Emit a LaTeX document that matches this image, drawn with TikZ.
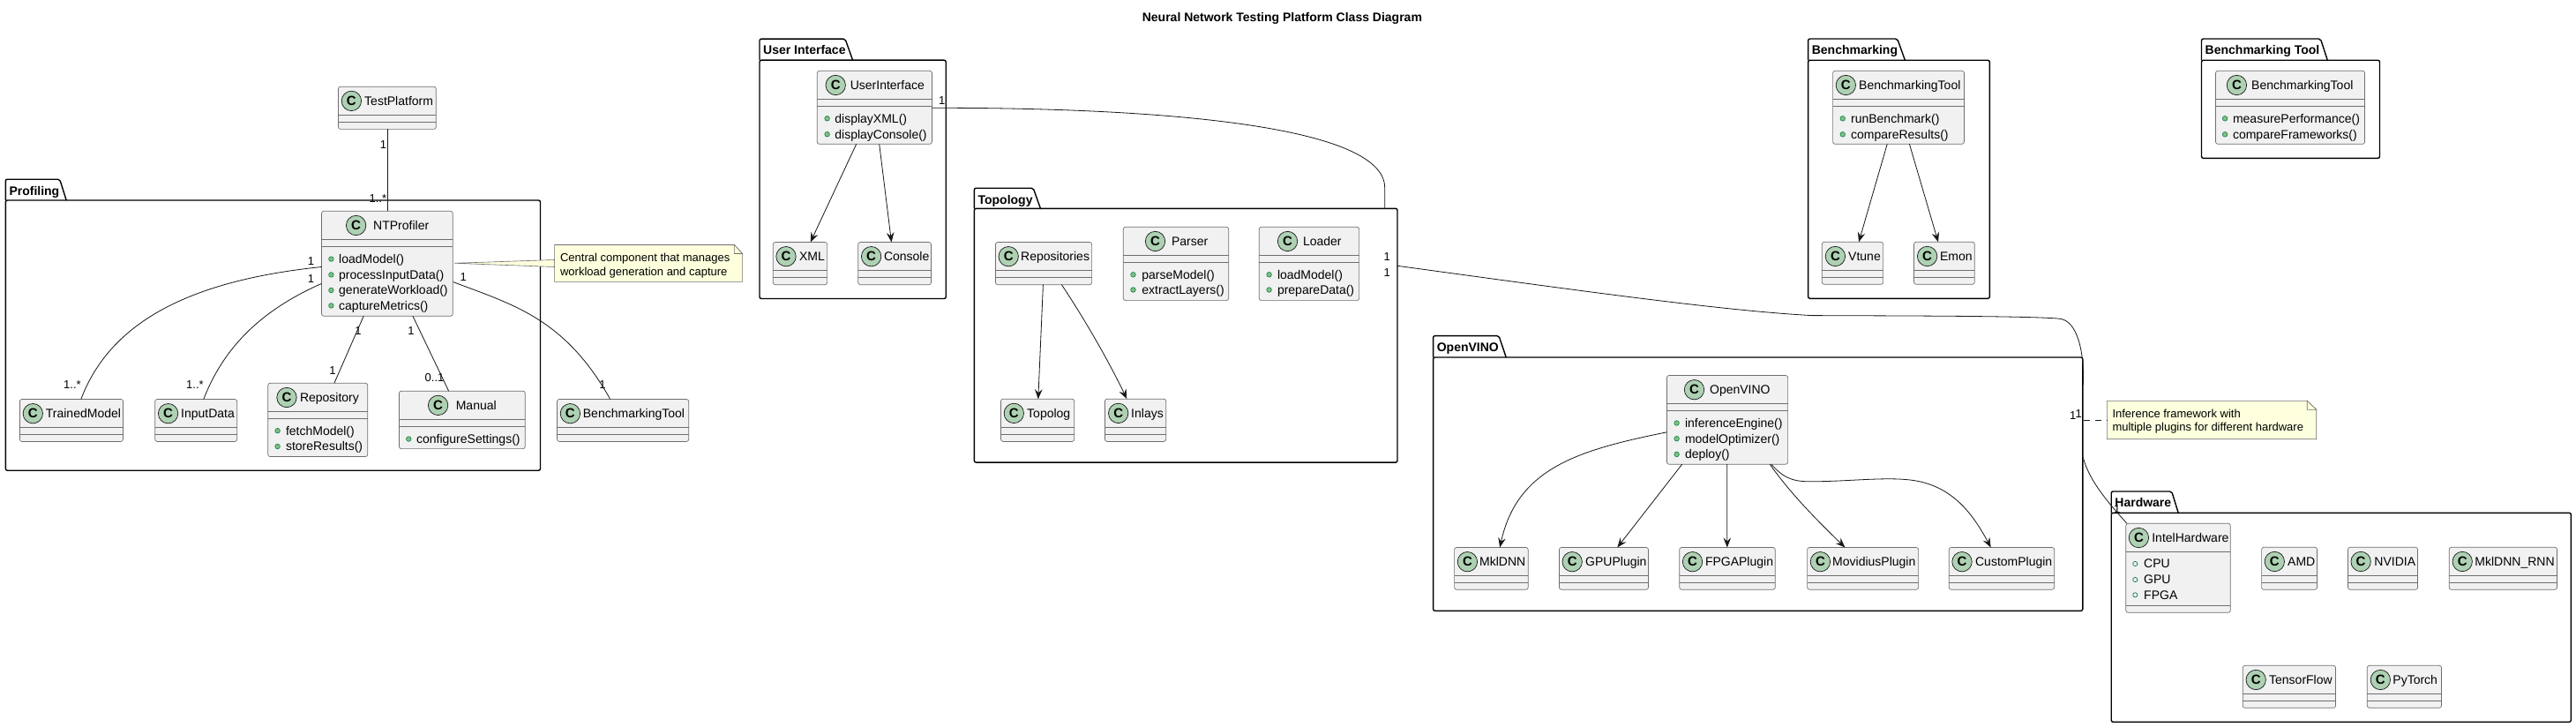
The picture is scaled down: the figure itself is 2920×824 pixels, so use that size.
\documentclass[tikz,border=0pt]{standalone}
\usepackage{fontspec}
\setmainfont{Liberation Sans}
\usetikzlibrary{calc,arrows.meta}
\definecolor{clsfill}{HTML}{F1F1F1}
\definecolor{clsline}{HTML}{6E6E6E}
\definecolor{iconfill}{HTML}{ADD1B2}
\definecolor{notefill}{HTML}{FEFFDD}
\definecolor{dotfill}{HTML}{84BE84}
\definecolor{dotline}{HTML}{038048}
\definecolor{ink}{HTML}{181818}
\tikzset{
  clsbox/.style={draw=clsline,fill=clsfill,line width=0.7pt,rounded corners=2.5pt,inner sep=0pt,outer sep=0pt,anchor=north west},
  pkgbox/.style={draw=black,line width=1.4pt,rounded corners=2pt,inner sep=0pt,outer sep=0pt,anchor=north west},
  pkgtab/.style={draw=black,line width=1.4pt,rounded corners=2pt},
  pkglabel/.style={font=\fontsize{14}{16}\selectfont\bfseries,inner sep=0pt,anchor=base west},
  sepline/.style={draw=clsline,line width=0.7pt},
  iconc/.style={circle,draw=ink,fill=iconfill,line width=0.7pt,minimum size=22.4pt,inner sep=0pt,font=\fontsize{15}{15}\selectfont\bfseries},
  clsname/.style={font=\fontsize{14}{16}\selectfont,inner sep=0pt,anchor=base west},
  mtext/.style={font=\fontsize{14}{16}\selectfont,inner sep=0pt,anchor=base west},
  mdot/.style={draw=dotline,fill=dotfill,line width=0.6pt},
  fdot/.style={draw=dotline,fill=none,line width=0.7pt},
  conn/.style={draw=ink,line width=0.8pt},
  arr/.style={conn,-{Stealth[length=11pt,width=8.5pt,inset=4pt,fill=ink]}},
  lbl/.style={font=\fontsize{13}{15}\selectfont,inner sep=0pt,anchor=base},
  notebody/.style={inner sep=0pt,outer sep=0pt,anchor=north west},
  noteline/.style={draw=clsline,fill=notefill,line width=0.6pt},
  ntext/.style={font=\fontsize{13}{15}\selectfont,inner sep=0pt,anchor=base west},
}
% id, xl, yt, xr, yb, separators, icon x, text x, name
\newcommand{\cls}[9]{%
  \node[clsbox,minimum width={(#4-#2)*1pt},minimum height={(#5-#3)*1pt}] (#1) at (#2,#3) {};
  \foreach \s in {#6}{\draw[sepline] (#1.north west |- 0,\s) -- (#1.north east |- 0,\s);}
  \node[iconc] (#1-i) at (#7,#3+16.2) {C};
  \node[clsname] (#1-t) at (#8,#3+21.2) {#9};
}
% id, n, dot x, text x, y, label
\newcommand{\mem}[6]{%
  \draw[mdot] (#3,#5) circle[radius=2.8pt];
  \node[mtext] (#1-m#2) at (#4,#5+4.9) {#6};
}
\newcommand{\fld}[6]{%
  \draw[fdot] (#3,#5) circle[radius=2.6pt];
  \node[mtext] (#1-m#2) at (#4,#5+4.9) {#6};
}
% id, xl, ytop, tab right top, tab right bottom, ybody, xr, yb, label
\newcommand{\pkg}[9]{%
  \draw[pkgtab] (#2,#6) -- (#2,#3) -- (#4,#3) -- (#5,#6);
  \node[pkgbox,minimum width={(#7-#2)*1pt},minimum height={(#8-#6)*1pt}] (#1) at (#2,#6) {};
  \node[pkglabel] (#1-l) at (#2+4,#3+17.8) {#9};
}
% id, xl, yt, xr, yb, fold x, fold y
\newcommand{\notebox}[7]{%
  \node[notebody,minimum width={(#4-#2)*1pt},minimum height={(#5-#3)*1pt}] (#1) at (#2,#3) {};
  \draw[noteline] (#2,#3) -- (#6,#3) -- (#4,#7) -- (#4,#5) -- (#2,#5) -- cycle;
  \draw[noteline] (#6,#3) -- (#6,#7) -- (#4,#7) -- cycle;
}
\begin{document}
\begin{tikzpicture}[x=1pt,y=-1pt]
\path[use as bounding box,fill=white] (0,0) rectangle (2920,824);

\node[font=\fontsize{14}{16}\selectfont\bfseries,inner sep=0pt,anchor=base] (title) at (1453.4,25) {Neural Network Testing Platform Class Diagram};

% packages
\pkg{pprof}{6.3}{203.2}{67.7}{75.2}{227}{612.5}{533.2}{Profiling}
\pkg{pui}{861}{44.1}{958}{966.6}{68.2}{1072.2}{338.5}{User Interface}
\pkg{ptop}{1104.4}{213.2}{1171.2}{1179.4}{236.3}{1584}{524.1}{Topology}
\pkg{pbm}{2049.6}{44}{2150.7}{2159.4}{68.3}{2255.3}{338.3}{Benchmarking}
\pkg{pbt}{2495.5}{44}{2630.4}{2638.3}{68.3}{2697.5}{179.3}{Benchmarking Tool}
\pkg{pov}{1624.6}{380.6}{1699}{1707.2}{405}{2360.8}{692.3}{OpenVINO}
\pkg{phw}{2393.2}{557}{2461.7}{2469.2}{581.3}{2914.3}{818.3}{Hardware}

% Profiling classes
\cls{tp}{383.5}{98.2}{494.3}{146.4}{130.4,138.2}{398.4}{413}{TestPlatform}
\cls{ntp}{364.5}{239.3}{513.2}{358.2}{271.4,279.6}{403.6}{423}{NTProfiler}
\mem{ntp}{1}{375.4}{384}{293.6}{loadModel()}
\mem{ntp}{2}{375.4}{384}{311.4}{processInputData()}
\mem{ntp}{3}{375.4}{384}{329}{generateWorkload()}
\mem{ntp}{4}{375.4}{384}{346.4}{captureMetrics()}
\cls{trained}{22.4}{452.5}{139.5}{500.4}{484.3,492.5}{37.3}{51.7}{TrainedModel}
\cls{input}{175.7}{452.5}{268.7}{500.4}{484.3,492.5}{190.6}{205}{InputData}
\cls{repo}{303.7}{434.3}{416.8}{517.5}{466.4,474.3}{325}{339.8}{Repository}
\mem{repo}{1}{314.6}{323.8}{488.2}{fetchModel()}
\mem{repo}{2}{314.6}{323.8}{506}{storeResults()}
\cls{manual}{452.4}{443.2}{595.3}{508.6}{475.4,483.6}{496.6}{516.6}{Manual}
\mem{manual}{1}{463.3}{471.9}{497.5}{configureSettings()}
\cls{bto}{631.5}{452.5}{780.7}{500.4}{484.3,492.5}{646.4}{660.7}{BenchmarkingTool}

% User Interface classes
\cls{ui}{926.3}{80.3}{1056.4}{163.3}{112.3,120.2}{947.2}{963.6}{UserInterface}
\mem{ui}{1}{937.6}{946.2}{134.3}{displayXML()}
\mem{ui}{2}{937.6}{946.2}{152.2}{displayConsole()}
\cls{xml}{876.3}{274.5}{937.6}{322.7}{306.2,314.4}{891}{905.9}{XML}
\cls{console}{972.8}{274.5}{1055.4}{322.7}{306.2,314.4}{987.6}{1001.8}{Console}

% Topology classes
\cls{repos}{1128.4}{274.5}{1237.6}{322.7}{306.2,314.4}{1143.2}{1157}{Repositories}
\cls{parser}{1273.3}{257.3}{1392.7}{340.6}{289.3,297.2}{1309.5}{1327.9}{Parser}
\mem{parser}{1}{1284.5}{1294.2}{311.3}{parseModel()}
\mem{parser}{2}{1284.5}{1294.2}{328.5}{extractLayers()}
\cls{loader}{1427.3}{257.3}{1540.6}{340.6}{289.3,297.2}{1459.5}{1476.8}{Loader}
\mem{loader}{1}{1438.6}{1447.8}{311.3}{loadModel()}
\mem{loader}{2}{1438.6}{1447.8}{328.5}{prepareData()}
\cls{topolog}{1134.5}{452.2}{1217.7}{500.4}{484.2,492.4}{1149.3}{1164}{Topolog}
\cls{inlays}{1252.4}{452.2}{1321.7}{500.4}{484.2,492.4}{1267.7}{1282}{Inlays}

% Benchmarking classes
\cls{bmk}{2077.6}{80.3}{2226.4}{163.3}{112.3,120.3}{2092.3}{2107}{BenchmarkingTool}
\mem{bmk}{1}{2088.7}{2097.9}{134.3}{runBenchmark()}
\mem{bmk}{2}{2088.7}{2097.9}{152.3}{compareResults()}
\cls{vtune}{2065.3}{274.3}{2134.6}{322.3}{306.3,314.3}{2080.4}{2095}{Vtune}
\cls{emon}{2169.5}{274.3}{2238.3}{322.3}{306.3,314.3}{2184.6}{2198.9}{Emon}

% Benchmarking Tool class
\cls{bmt}{2511.5}{80.3}{2680.5}{163.3}{112.3,120.3}{2535.4}{2552}{BenchmarkingTool}
\mem{bmt}{1}{2522.1}{2530.8}{134.3}{measurePerformance()}
\mem{bmt}{2}{2522.1}{2530.8}{152.3}{compareFrameworks()}

% OpenVINO classes
\cls{ov}{1889.4}{425.5}{2026.6}{526.2}{457.3,465.4}{1920.5}{1937.9}{OpenVINO}
\mem{ov}{1}{1900.6}{1909.8}{479.5}{inferenceEngine()}
\mem{ov}{2}{1900.6}{1909.8}{497.2}{modelOptimizer()}
\mem{ov}{3}{1900.6}{1909.8}{514.9}{deploy()}
\cls{mkl}{1648.6}{620.5}{1732.2}{668.2}{652.3,660.5}{1663.4}{1677}{MklDNN}
\cls{gpu}{1767.4}{620.5}{1868.5}{668.2}{652.3,660.5}{1782.2}{1797}{GPUPlugin}
\cls{fpga}{1903.7}{620.5}{2012.3}{668.2}{652.3,660.5}{1918.5}{1932.8}{FPGAPlugin}
\cls{mov}{2048.6}{620.5}{2174.6}{668.2}{652.3,660.5}{2063.4}{2077}{MovidiusPlugin}
\cls{custom}{2209.3}{620.5}{2328.7}{668.2}{652.3,660.5}{2224}{2238.9}{CustomPlugin}

% Hardware classes
\cls{intel}{2409.8}{593.3}{2528.3}{694.3}{625.3,686.3}{2424.4}{2439.1}{IntelHardware}
\fld{intel}{1}{2420.3}{2430}{639}{CPU}
\fld{intel}{2}{2420.3}{2430}{657}{GPU}
\fld{intel}{3}{2420.3}{2430}{674.3}{FPGA}
\cls{amd}{2563.6}{620.3}{2626.5}{668.3}{652.3,660.3}{2578.3}{2593}{AMD}
\cls{nvidia}{2661.5}{620.3}{2740.5}{668.3}{652.3,660.3}{2676.1}{2691.2}{NVIDIA}
\cls{rnn}{2776.2}{620.3}{2898.5}{668.3}{652.3,660.3}{2791.2}{2805.2}{MklDNN\_RNN}
\cls{tf}{2542.2}{754.3}{2647.5}{802.3}{786.3,794.3}{2557.2}{2571.9}{TensorFlow}
\cls{pt}{2683.3}{754.3}{2767.5}{802.3}{786.3,794.3}{2698.3}{2712.2}{PyTorch}

% notes
\notebox{n1}{628.6}{277.5}{841.6}{319.3}{832.4}{287.5}
\draw[noteline] ($(ntp.north east)+(2,59)$) -- ($(n1.north west)+(0,17)$) -- ($(n1.north west)+(0,25)$) -- cycle;
\node[ntext] (n1-a) at (634.9,296.3) {Central component that manages};
\node[ntext] (n1-b) at (634.9,312.4) {workload generation and capture};
\notebox{n2}{2388.3}{454.3}{2625.7}{497.7}{2615.2}{464.3}
\node[ntext] (n2-a) at (2394.3,473.2) {Inference framework with};
\node[ntext] (n2-b) at (2394.3,488.8) {multiple plugins for different hardware};
\draw[conn,dash pattern=on 7.5pt off 5.6pt] ($(pov.north east)+(1,71)$) -- (n2.west);

% connectors: Profiling
\draw[conn] ($(tp.south west)+(56.2,0)$) -- ($(ntp.north west)+(75.2,0)$);
\draw[conn] ($(ntp.north west)+(0,63.2)$) .. controls (215,318) and (125,365) .. ($(trained.north west)+(69.4,0)$);
\draw[conn] ($(ntp.north west)+(0,82.1)$) .. controls (300,350) and (255,390) .. ($(input.north west)+(55.1,0)$);
\draw[conn] ($(ntp.south west)+(47.7,0)$) -- ($(repo.north west)+(75.2,0)$);
\draw[conn] ($(ntp.south west)+(103.4,0)$) -- ($(manual.north west)+(56.2,0)$);
\draw[conn] ($(ntp.north east)+(0.6,80.3)$) .. controls (580,345) and (640,360) .. ($(bto.north west)+(60.2,0)$);

% connectors: User Interface
\draw[arr] ($(ui.south west)+(44.4,0)$) -- ($(xml.north west)+(42.4,0)$);
\draw[arr] ($(ui.south west)+(70.4,0)$) -- ($(console.north west)+(37.7,0)$);
\draw[conn] ($(ui.north east)+(0,42)$) .. controls (1300,122) and (1569.7,140) .. (1569.7,212.8) -- ($(ptop.north east)+(-14.3,0)$);

% connectors: Topology
\draw[arr] ($(repos.south west)+(54,0)$) -- ($(topolog.north west)+(42.3,0)$);
\draw[arr] ($(repos.south west)+(75,0)$) .. controls (1235,370) and (1262,420) .. ($(inlays.north west)+(24.9,0)$);
\draw[conn] ($(ptop.north east)+(0,65)$) .. controls (1780,328) and (1950,352) .. (2053.7,357.6) .. controls (2150,358) and (2300,358) .. (2334.3,361.2) .. controls (2355,363) and (2363,400) .. ($(pov.north east)+(0.4,31.7)$);
\draw[conn] ($(pov.north east)+(0.4,113.3)$) .. controls (2368,545) and (2390,570) .. ($(intel.north west)+(1.1,0)$);

% connectors: Benchmarking
\draw[arr] ($(bmk.south west)+(61.6,0)$) -- ($(vtune.north west)+(41.7,0)$);
\draw[arr] ($(bmk.south west)+(86.8,0)$) -- ($(emon.north west)+(27.5,0)$);

% connectors: OpenVINO
\draw[arr] ($(ov.north west)+(0,64.3)$) .. controls (1790,510) and (1720,530) .. ($(mkl.north west)+(51.5,0)$);
\draw[arr] ($(ov.south west)+(17.3,0)$) -- ($(gpu.north west)+(65.9,0)$);
\draw[arr] ($(ov.south west)+(68.4,0)$) -- ($(fpga.north west)+(54.1,0)$);
\draw[arr] ($(ov.south west)+(116.8,0)$) .. controls (2030,560) and (2060,590) .. ($(mov.north west)+(42.8,0)$);
\draw[arr] ($(ov.south west)+(118.4,0)$) .. controls (2020,540) and (2030,545.6) .. (2050,545.8) .. controls (2090,546) and (2130,541) .. (2160,543.5) .. controls (2210,547) and (2235,580) .. ($(custom.north west)+(47.4,0)$);

% multiplicities
\node[lbl] (l01) at (434.6,168.1) {1};
\node[lbl] (l02) at (428.3,229.1) {1..*};
\node[lbl] (l03) at (352.5,300.2) {1};
\node[lbl] (l04) at (352.5,320.2) {1};
\node[lbl] (l05) at (525.3,318.5) {1};
\node[lbl] (l06) at (82,440.9) {1..*};
\node[lbl] (l07) at (221,440.9) {1..*};
\node[lbl] (l08) at (405.9,379.5) {1};
\node[lbl] (l09) at (377,424.1) {1};
\node[lbl] (l10) at (466,379.5) {1};
\node[lbl] (l11) at (492.5,432) {0..1};
\node[lbl] (l12) at (683,440.9) {1};
\node[lbl] (l13) at (1067.7,118.9) {1};
\node[lbl] (l14) at (1572.2,295.2) {1};
\node[lbl] (l15) at (1572.2,313.1) {1};
\node[lbl] (l16) at (2349.6,475.2) {1};
\node[lbl] (l17) at (2356.3,473.5) {1};
\node[lbl] (l18) at (2399.6,581.2) {1};
\end{tikzpicture}
\end{document}
